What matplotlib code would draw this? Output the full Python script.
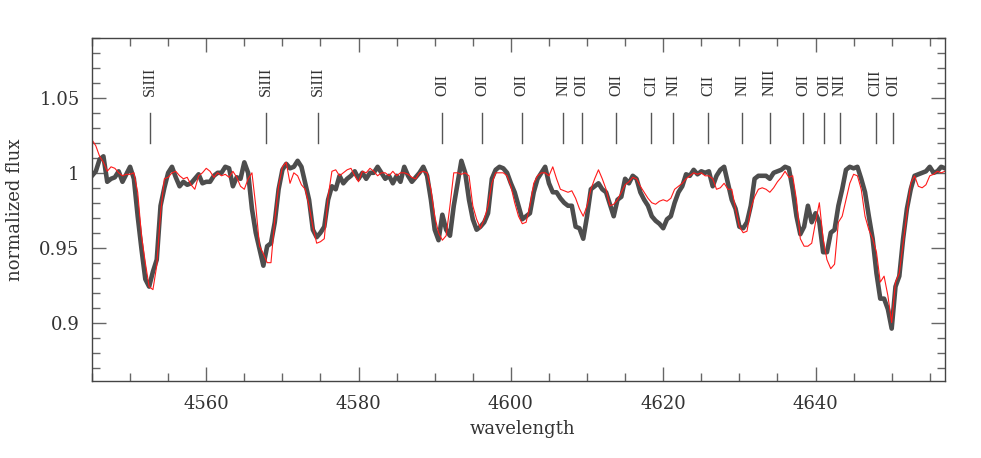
import numpy as np
import matplotlib
matplotlib.use("Agg")
import matplotlib.pyplot as plt
from matplotlib.ticker import MultipleLocator, FuncFormatter

# wavelength grid (Angstrom), 0.5 A sampling
wavelength = np.arange(4545.0, 4657.01, 0.5)

observed_flux = [
    0.998, 1.001, 1.009, 1.011, 0.994, 0.996, 0.997, 1.001, 0.994, 0.999, 1.004, 0.996,
    0.971, 0.949, 0.929, 0.924, 0.934, 0.942, 0.978, 0.990, 1.000, 1.004, 0.997, 0.991,
    0.994, 0.992, 0.993, 0.996, 0.999, 0.993, 0.994, 0.994,
    0.998, 1.000, 1.000, 1.004, 1.003, 0.991, 0.997, 0.996, 1.007, 1.000, 0.976, 0.960,
    0.949, 0.938, 0.951, 0.953, 0.967, 0.989, 1.002, 1.006, 1.003, 1.004, 1.008, 1.004,
    0.993, 0.982, 0.962, 0.957, 0.960, 0.964, 0.982, 0.991,
    0.989, 0.998, 0.993, 0.996, 0.998, 1.001, 0.996, 1.000, 0.996, 1.000, 1.000, 1.004,
    1.000, 0.996, 0.998, 0.993, 0.998, 0.994, 1.004, 0.998, 0.994, 0.997, 1.000, 1.004,
    0.998, 0.982, 0.962, 0.955, 0.972, 0.962, 0.958, 0.978,
    0.993, 1.008, 1.000, 0.982, 0.969, 0.962, 0.964, 0.967, 0.973, 0.996, 1.002, 1.004,
    1.003, 1.000, 0.993, 0.987, 0.978, 0.969, 0.971, 0.973, 0.987, 0.996, 1.000, 1.004,
    0.993, 0.987, 0.987, 0.983, 0.980, 0.978, 0.978, 0.964,
    0.963, 0.956, 0.971, 0.989, 0.991, 0.993, 0.989, 0.987, 0.979, 0.971, 0.982, 0.984,
    0.996, 0.993, 0.998, 0.996, 0.987, 0.982, 0.978, 0.971, 0.968, 0.966, 0.963, 0.969,
    0.971, 0.980, 0.987, 0.991, 0.999, 0.998, 1.002, 0.999,
    1.001, 1.000, 1.001, 0.991, 0.998, 1.002, 1.004, 0.993, 0.982, 0.976, 0.964, 0.963,
    0.967, 0.978, 0.996, 0.998, 0.998, 0.998, 0.996, 1.000, 1.001, 1.002, 1.004, 1.003,
    0.989, 0.971, 0.959, 0.964, 0.978, 0.967, 0.973, 0.967,
    0.947, 0.947, 0.960, 0.962, 0.978, 0.989, 1.002, 1.004, 1.003, 1.004, 0.996, 0.987,
    0.971, 0.956, 0.933, 0.916, 0.916, 0.909, 0.896, 0.924, 0.931, 0.956, 0.976, 0.989,
    0.998, 0.999, 1.000, 1.001, 1.004, 1.000, 1.001, 1.004, 1.003,
]

model_flux = [
    1.022, 1.018, 1.011, 1.007, 1.001, 1.004, 1.003, 1.000, 0.998, 0.999, 0.999, 1.000,
    0.987, 0.958, 0.940, 0.924, 0.922, 0.938, 0.973, 0.996, 0.997, 1.000, 1.001, 0.998,
    0.996, 0.997, 0.992, 0.989, 0.998, 1.000, 1.003, 1.001,
    0.997, 1.000, 0.998, 0.999, 0.997, 1.001, 0.997, 0.991, 0.989, 0.996, 1.000, 0.978,
    0.951, 0.946, 0.940, 0.940, 0.969, 0.991, 1.004, 1.007, 0.993, 1.000, 0.998, 0.992,
    0.989, 0.978, 0.964, 0.953, 0.954, 0.956, 0.984, 1.001,
    1.002, 0.998, 1.000, 1.002, 1.003, 0.998, 0.994, 1.001, 1.000, 1.003, 1.001, 0.998,
    1.000, 1.000, 0.998, 1.001, 0.998, 1.000, 1.000, 0.999, 0.997, 0.996, 1.000, 1.001,
    1.000, 0.989, 0.971, 0.960, 0.955, 0.958, 0.978, 1.000,
    1.000, 0.999, 1.000, 0.998, 0.978, 0.969, 0.963, 0.969, 0.978, 0.993, 1.000, 1.000,
    1.000, 0.998, 0.991, 0.980, 0.971, 0.966, 0.967, 0.978, 0.993, 0.998, 1.000, 1.000,
    0.998, 1.004, 0.996, 0.989, 0.988, 0.987, 0.988, 0.983,
    0.976, 0.971, 0.978, 0.989, 0.996, 1.002, 0.996, 0.989, 0.978, 0.979, 0.982, 0.987,
    0.992, 0.994, 0.997, 0.996, 0.991, 0.987, 0.983, 0.980, 0.979, 0.981, 0.982, 0.981,
    0.983, 0.989, 0.991, 0.993, 0.996, 0.998, 1.000, 0.999,
    1.000, 0.998, 0.998, 0.996, 0.989, 0.990, 0.993, 0.989, 0.989, 0.976, 0.964, 0.960,
    0.961, 0.976, 0.984, 0.989, 0.990, 0.989, 0.987, 0.990, 0.994, 0.997, 1.001, 0.997,
    0.998, 0.982, 0.956, 0.951, 0.951, 0.953, 0.967, 0.980,
    0.956, 0.942, 0.936, 0.939, 0.967, 0.971, 0.982, 0.993, 0.999, 0.998, 0.989, 0.971,
    0.962, 0.956, 0.947, 0.927, 0.931, 0.918, 0.900, 0.927, 0.933, 0.953, 0.973, 0.993,
    0.998, 0.991, 0.990, 0.992, 0.998, 0.999, 1.001, 1.000, 1.001,
]

line_ids = ["SiIII", "SiIII", "SiIII", "OII", "OII", "OII", "NII", "OII", "OII", "CII",
            "NII", "CII", "NII", "NIII", "OII", "OII", "NII", "CIII", "OII"]
line_wavelengths = [4552.6, 4567.8, 4574.7, 4591.0, 4596.2, 4601.4, 4606.9, 4609.3,
                    4613.8, 4618.4, 4621.3, 4625.9, 4630.4, 4634.0, 4638.4, 4641.1,
                    4643.2, 4647.9, 4650.2]

fig = plt.figure(figsize=(9.81, 4.58), dpi=100)
ax = fig.add_axes([92 / 981, 1 - 381 / 458, 853 / 981, 343 / 458])

ax.plot(wavelength, observed_flux, color="#4d4d4d", lw=3.3, solid_joinstyle="round")
ax.plot(wavelength, model_flux, color="#ff1a1a", lw=0.8)

for name, wl in zip(line_ids, line_wavelengths):
    ax.plot([wl, wl], [1.02, 1.04], color="#555555", lw=1.0)
    ax.text(wl, 1.0515, name, rotation=90, ha="center", va="bottom",
            family="Liberation Serif", fontsize=11.5, color="#333333")

ax.set_xlim(4545, 4657)
ax.set_ylim(0.861, 1.09)

ax.xaxis.set_major_locator(MultipleLocator(20))
ax.xaxis.set_minor_locator(MultipleLocator(5))
ax.yaxis.set_major_locator(MultipleLocator(0.05))
ax.yaxis.set_minor_locator(MultipleLocator(0.01))
ax.yaxis.set_major_formatter(FuncFormatter(lambda v, p: "%g" % round(v, 3)))

ax.tick_params(which="both", direction="in", top=True, right=True, color="#666666",
               width=1.0, labelcolor="#333333")
ax.tick_params(which="major", length=10)
ax.tick_params(which="minor", length=5.5)
ax.tick_params(axis="x", pad=10)
ax.tick_params(axis="y", pad=9)
for lab in ax.get_xticklabels() + ax.get_yticklabels():
    lab.set_family("DejaVu Serif")
    lab.set_fontsize(13)
for s in ax.spines.values():
    s.set_color("#444444")
    s.set_linewidth(1.0)

fig.text(523 / 981, 1 - 429 / 458, "wavelength", ha="center", va="center",
         family="DejaVu Serif", fontsize=13, color="#333333")
fig.text(15 / 981, 1 - 210 / 458, "normalized flux", ha="center", va="center",
         rotation=90, family="DejaVu Serif", fontsize=13, color="#333333")

fig.savefig("out.png", dpi=100)
